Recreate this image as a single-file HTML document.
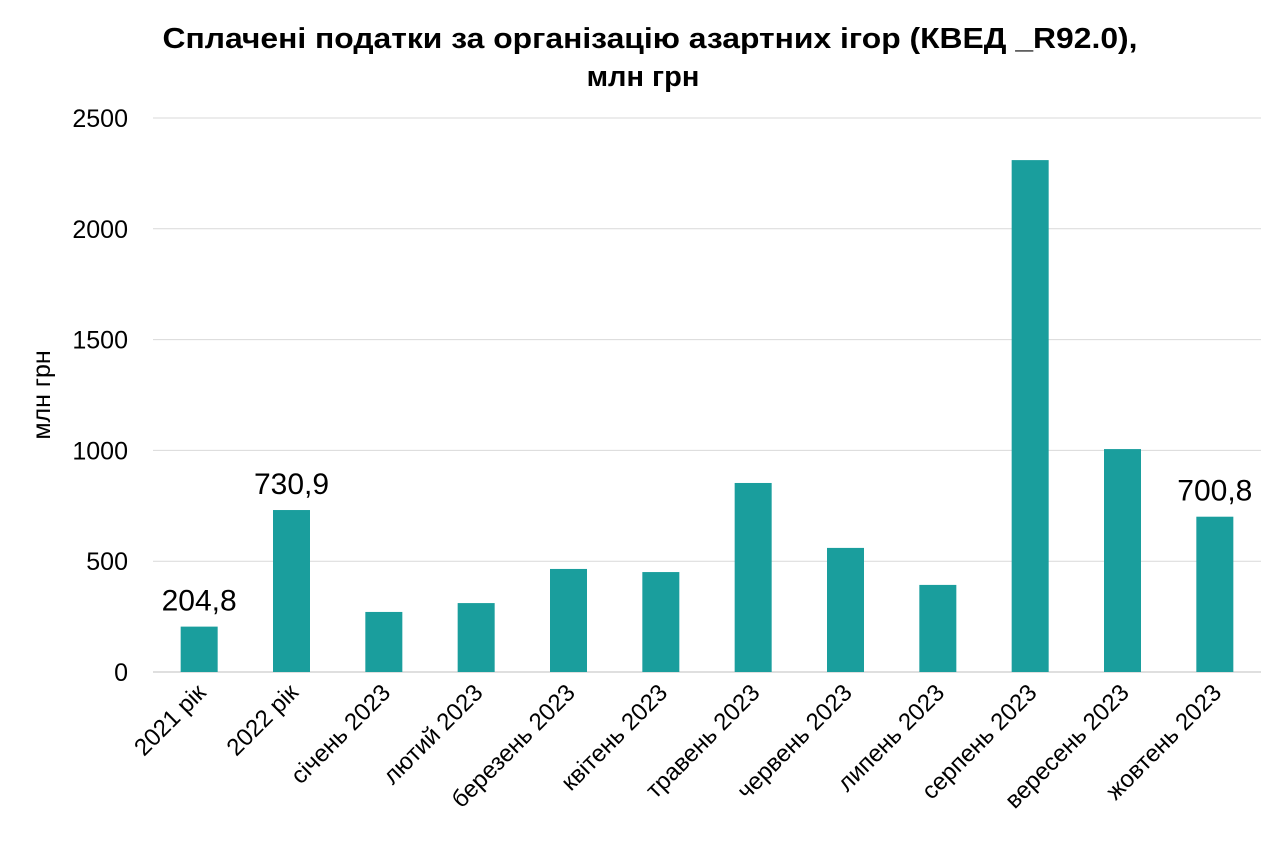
<!DOCTYPE html>
<html><head><meta charset="utf-8"><style>
body{margin:0;background:#fff;font-family:"Liberation Sans",sans-serif;}
</style></head><body>
<svg id="c" width="1280" height="859" xmlns="http://www.w3.org/2000/svg" font-family="Liberation Sans, sans-serif">
<text x="650" y="48" text-anchor="middle" font-size="29" font-weight="bold" textLength="975" lengthAdjust="spacingAndGlyphs">Сплачені податки за організацію азартних ігор (КВЕД _R92.0),</text>
<text x="643" y="86" text-anchor="middle" font-size="29" font-weight="bold">млн грн</text>
<text transform="translate(50,395) rotate(-90)" text-anchor="middle" font-size="25">млн грн</text>
<g id="grid"></g><g id="bars"></g><g id="labels"></g>
</svg>
<script>
const categories=["2021 рік","2022 рік","січень 2023","лютий 2023","березень  2023","квітень  2023","травень  2023","червень  2023","липень  2023","серпень  2023","вересень  2023","жовтень  2023"];
const values=[204.8,730.9,271,311,465,451,853,560,393,2310,1006,700.8];
const valueLabels=["204,8","730,9","","","","","","","","","","700,8"];
const yTicks=[0,500,1000,1500,2000,2500];
const NS="http://www.w3.org/2000/svg";
const x0=153,x1=1261,y0=672,y1=118,yMax=2500;
const y=v=>y0-(v/yMax)*(y0-y1);
const band=(x1-x0)/categories.length;
const xc=i=>x0+band*(i+0.5);
function mk(t,a,p){const e=document.createElementNS(NS,t);for(const k in a)e.setAttribute(k,a[k]);p.appendChild(e);return e;}
const g=document.getElementById('grid'),b=document.getElementById('bars'),l=document.getElementById('labels');
yTicks.forEach(t=>{
 const ln=mk('line',{x1:x0,x2:x1,y1:y(t),y2:y(t),stroke:t===0?'#bfbfbf':'#d9d9d9','stroke-width':1},g);
 
 
 const tx=mk('text',{x:128,y:y(t)+9,'text-anchor':'end','font-size':25},g);
 tx.textContent=t;
 
 
});
values.forEach((v,i)=>{
 const r=mk('rect',{x:xc(i)-18.5,y:y(v),width:37,height:y0-y(v),fill:'#1a9e9d'},b);
 
 
 if(valueLabels[i]){
  const t=mk('text',{x:xc(i),y:y(v)-16,'text-anchor':'middle','font-size':30},l);
  t.textContent=valueLabels[i];
  
  
 }
 const cx=xc(i)+8,cy=y0+22;
 const t=mk('text',{x:cx,y:cy,'text-anchor':'end','font-size':24,transform:`rotate(-45 ${cx} ${cy})`,'xml:space':'preserve'},l);
 t.textContent=categories[i];
 
 
});
</script>
</body></html>
